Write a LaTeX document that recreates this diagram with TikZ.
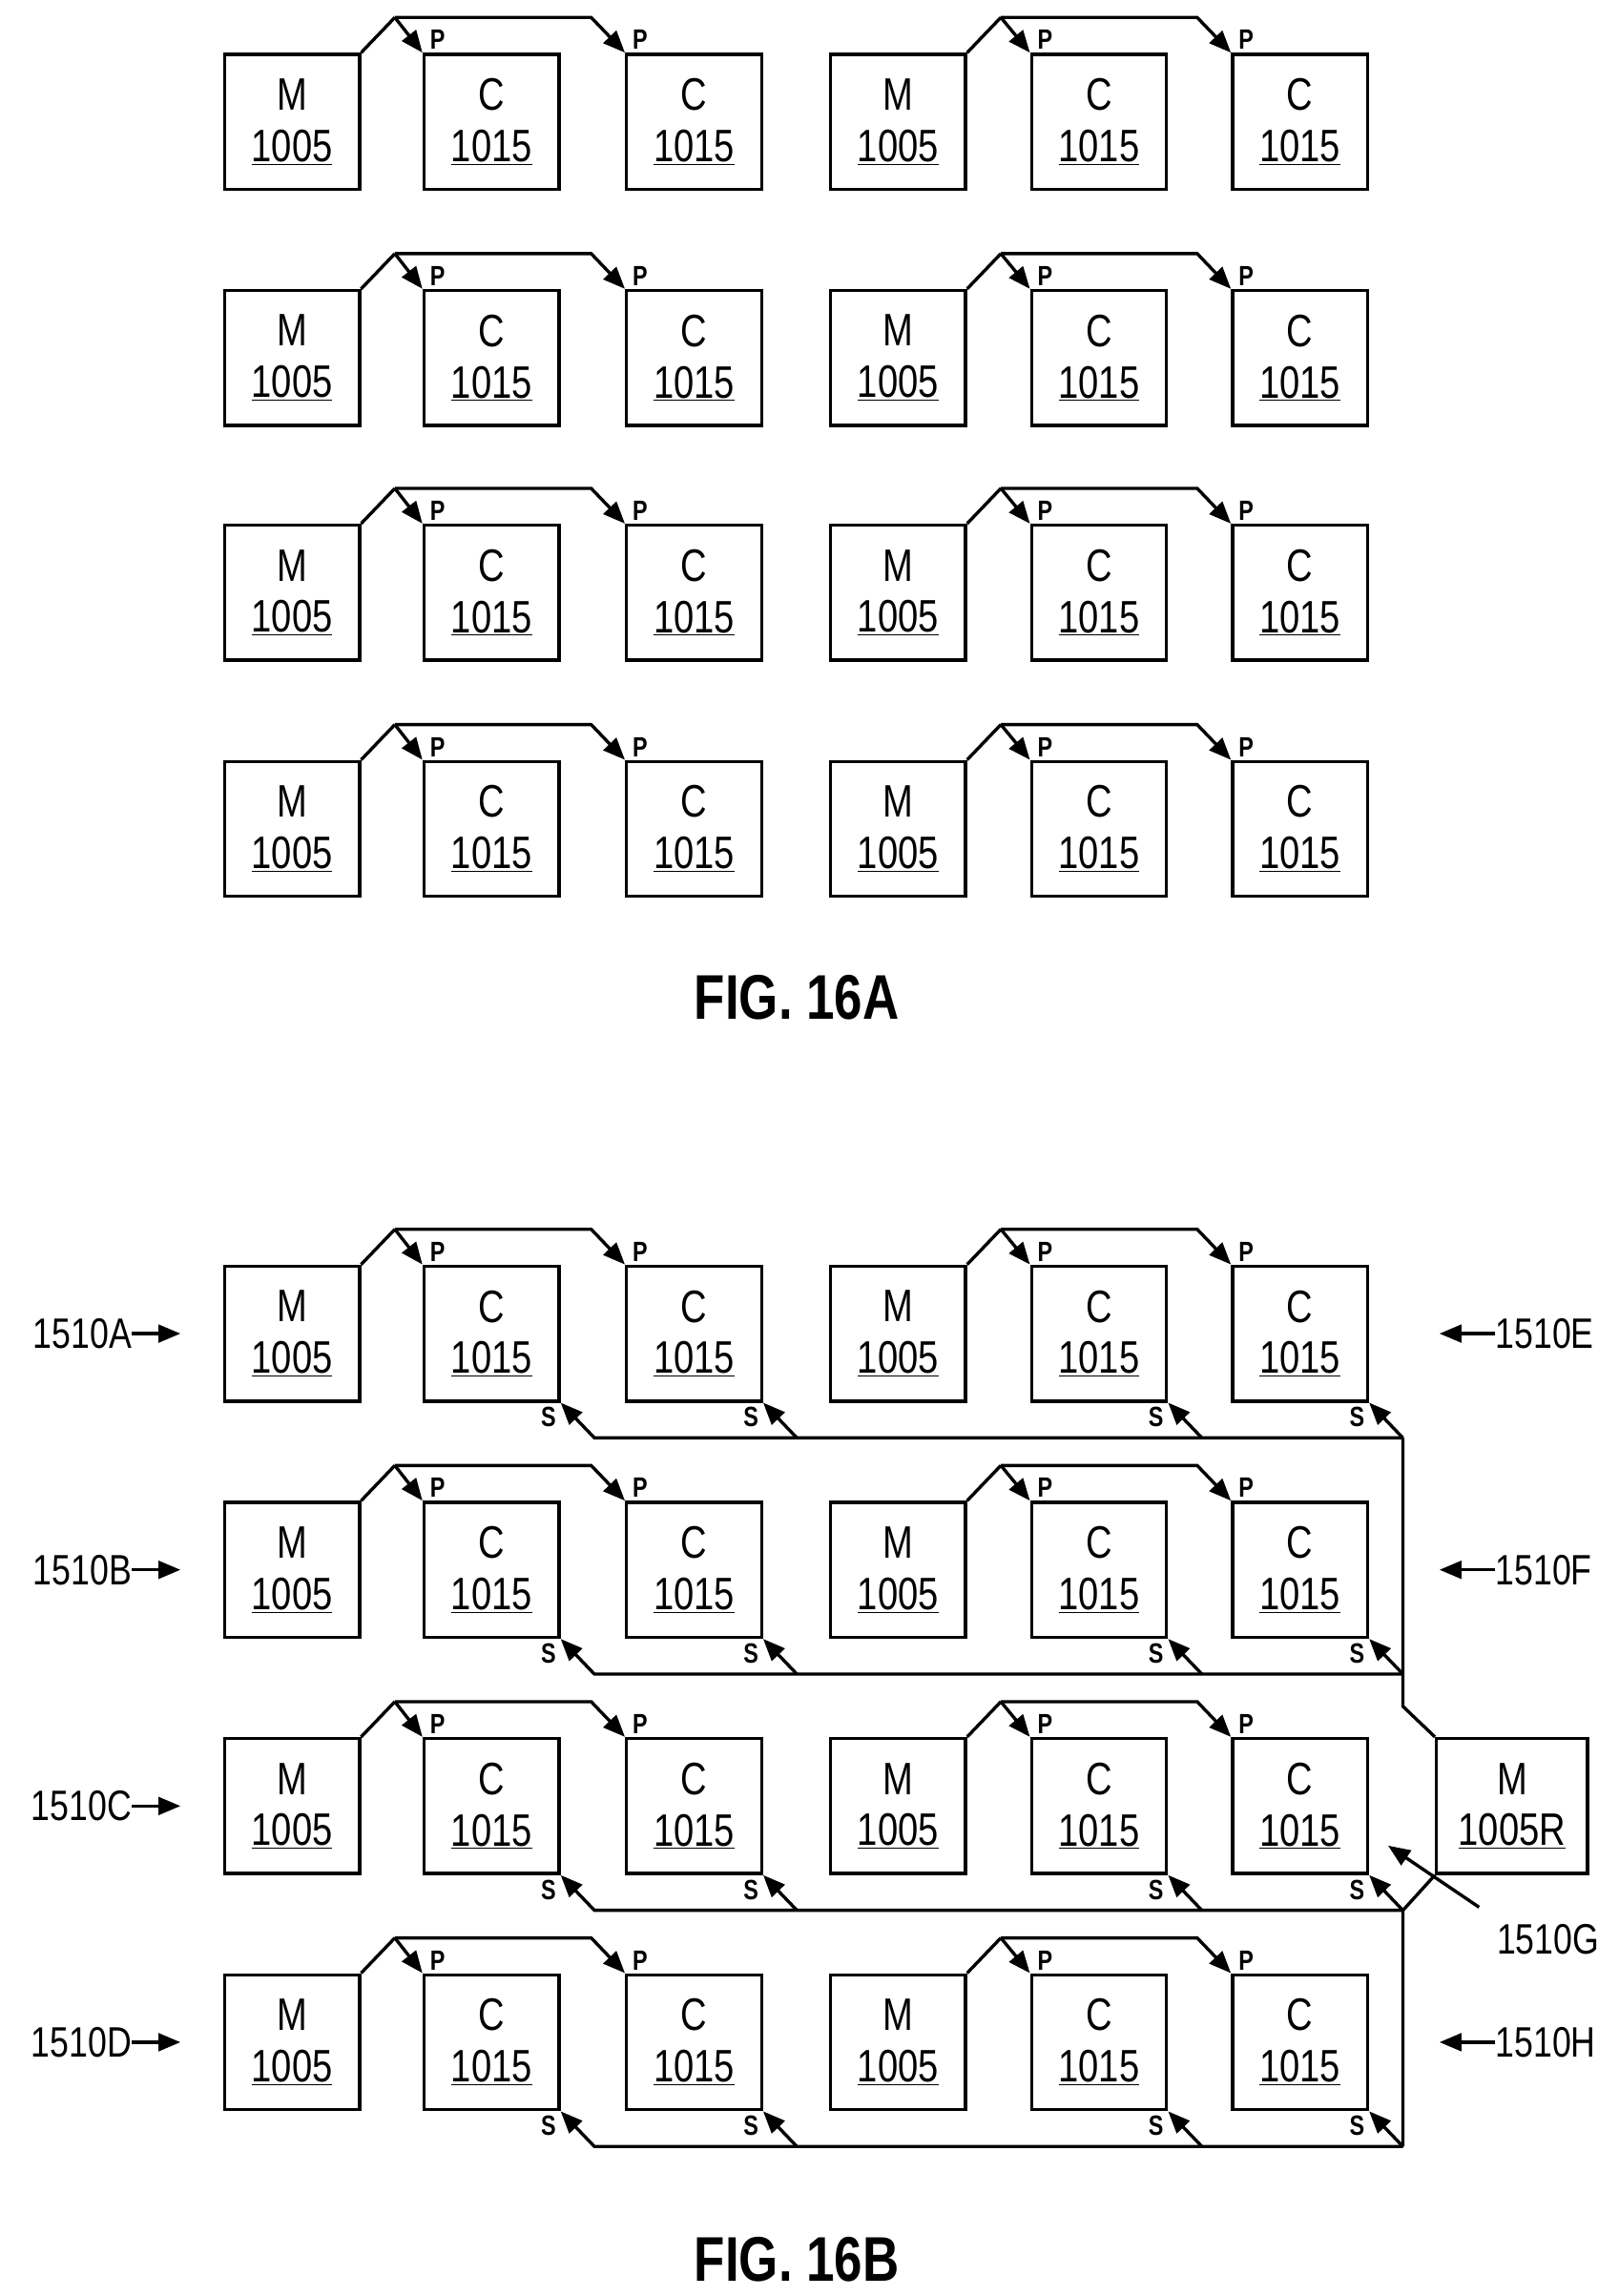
\documentclass[tikz,border=0pt]{standalone}
\usepackage{fontspec}
\setmainfont{Liberation Sans}
\newfontfamily\cond[FakeStretch=0.8]{Liberation Sans}
\usetikzlibrary{arrows.meta,calc}
\begin{document}
\begin{tikzpicture}[x=1pt,y=-1pt,
  box/.style={draw,line width=2.2pt,minimum width=92pt,minimum height=92pt,inner sep=0pt,align=center,font=\cond\fontsize{31}{37}\selectfont},
  ln/.style={line width=2.2pt,line join=miter},
  arr/.style={ln,-{Triangle[length=15pt,width=12pt]}},
  lbl/.style={font=\cond\bfseries\fontsize{19}{19}\selectfont,inner sep=0pt},
  ref/.style={font=\cond\fontsize{29}{29}\selectfont,inner sep=0pt},
  fig/.style={font=\cond\bfseries\fontsize{43}{43}\selectfont}]
\useasboundingbox (0,0) rectangle (1103,1565);
\foreach \T [count=\r] in {37,198,358,519,863,1024,1185,1346}{
  \foreach \cx/\lab/\num [count=\k] in {199/M/1005,335/C/1015,473/C/1015,612/M/1005,749/C/1015,886/C/1015}{
    \node[box] (b\r-\k) at (\cx,\T+46) {\lab\\[-2pt]\underline{\num}};
  }
  \foreach \g in {0,3}{
    \pgfmathtruncatemacro\a{\g+1}\pgfmathtruncatemacro\b{\g+2}\pgfmathtruncatemacro\c{\g+3}
    \draw[ln] (b\r-\a.north east) -- ++(23pt,24pt) coordinate (ap\r-\g);
    \draw[arr] (ap\r-\g) -- ($(b\r-\c.north west)+(-23pt,24pt)$) -- (b\r-\c.north west);
    \draw[arr] (ap\r-\g) -- (b\r-\b.north west);
    \node[lbl,anchor=south west] at ($(b\r-\b.north west)+(5pt,2pt)$) {P};
    \node[lbl,anchor=south west] at ($(b\r-\c.north west)+(5pt,2pt)$) {P};
  }
}
% S buses in FIG. 16B
\foreach \r in {5,6,7,8}{
  \coordinate (bus\r) at ($(b\r-6.south east)+(23pt,-24pt)$);
  \draw[arr] (bus\r) -- ($(b\r-2.south east)+(23pt,-24pt)$) -- (b\r-2.south east);
  \foreach \k in {3,5,6}{
    \draw[arr] ($(b\r-\k.south east)+(23pt,-24pt)$) -- (b\r-\k.south east);
  }
  \foreach \k in {2,3,5,6}{
    \node[lbl,anchor=north east] at ($(b\r-\k.south east)+(-3pt,-3pt)$) {S};
  }
}
\node[box,minimum width=103pt] (R) at (1030.5,1231) {M\\[-2pt]\underline{1005R}};
\draw[ln] (bus5) -- (bus6) -- ++(0,-22pt) -- (R.north west);
\draw[ln] (R.south west) -- (bus7) -- (bus8);
% reference labels
\foreach \y/\l/\n in {909/A/LA,1070/B/LB,1231/C/LC,1392/D/LD}{
  \node[ref,anchor=east] (\n) at (90,\y) {1510\l};
  \draw[arr] (\n.east) -- ++(33pt,0);
}
\foreach \y/\l/\n in {909/E/LE,1070/F/LF,1392/H/LH}{
  \node[ref,anchor=west] (\n) at (1019,\y) {1510\l};
  \draw[arr] (\n.west) -- ++(-38pt,0);
}
\node[ref] (LG) at (1055,1322) {1510G};
\draw[arr] (1008,1300) -- (946,1258);
\node[fig] (f1) at (543,680) {FIG. 16A};
\node[fig] (f2) at (543,1540) {FIG. 16B};
\end{tikzpicture}
\end{document}
